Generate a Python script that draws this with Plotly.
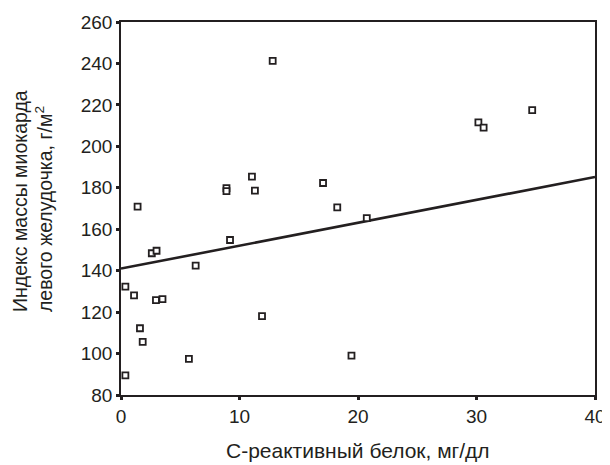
import plotly.graph_objects as go

crp = [0.37, 0.37, 1.1, 1.4, 1.6, 1.83, 2.6, 2.95, 3.0, 3.5, 5.73, 6.3,
       8.9, 8.9, 9.2, 11.05, 11.3, 11.9, 12.8, 17.05, 18.25, 19.45, 20.74,
       30.16, 30.6, 34.7]
lvmi = [89.5, 132.3, 128.1, 170.9, 112.2, 105.6, 148.4, 125.8, 149.6, 126.3,
        97.4, 142.4, 179.8, 178.4, 154.8, 185.4, 178.6, 118.1, 241.2, 182.3,
        170.5, 99.0, 165.4, 211.6, 209.0, 217.5]

fit_x = [0, 40]
fit_y = [141, 185.2]

x_ticks = [0, 10, 20, 30, 40]
y_ticks = [80, 100, 120, 140, 160, 180, 200, 220, 240, 260]

x_title = "С-реактивный белок, мг/дл"
y_title = "Индекс массы миокарда<br>левого желудочка, г/м<sup>2</sup>"

ink = "#231f20"
font = "Liberation Sans, Arial, sans-serif"

fig = go.Figure()
fig.add_trace(go.Scatter(x=fit_x, y=fit_y, mode="lines",
                         line=dict(color=ink, width=2.6), hoverinfo="skip"))
fig.add_trace(go.Scatter(x=crp, y=lvmi, mode="markers",
                         marker=dict(symbol="square", size=6, color="white",
                                     line=dict(color=ink, width=1.8))))

# page body has an 8px default margin, so the figure is sized to fit the window
fig.update_layout(
    width=602, height=457,
    margin=dict(l=113, r=15, t=14, b=70),
    paper_bgcolor="white", plot_bgcolor="white",
    showlegend=False,
    font=dict(family=font, size=19, color=ink),
)
fig.update_xaxes(range=[0, 40], tickvals=x_ticks, showgrid=False, zeroline=False,
                 showline=True, linecolor=ink, linewidth=1.5, mirror=True,
                 ticks="outside", ticklen=3, tickwidth=3, tickcolor=ink,
                 tickfont=dict(size=19), automargin=False)
fig.update_yaxes(range=[80, 260], tickvals=y_ticks, showgrid=False, zeroline=False,
                 showline=True, linecolor=ink, linewidth=1.5, mirror=True,
                 ticks="outside", ticklen=3, tickwidth=3, tickcolor=ink,
                 tickfont=dict(size=19), automargin=False)

fig.add_annotation(text=x_title, xref="paper", yref="paper", x=0.5, y=-0.148,
                   xanchor="center", yanchor="middle", showarrow=False,
                   font=dict(size=21, family=font, color=ink))
fig.add_annotation(text=y_title, xref="paper", yref="paper", x=-0.187, y=0.521,
                   xanchor="center", yanchor="middle", showarrow=False, textangle=-90,
                   align="left", borderpad=0,
                   font=dict(size=19.5, family=font, color=ink))

fig.write_html("out.html")
